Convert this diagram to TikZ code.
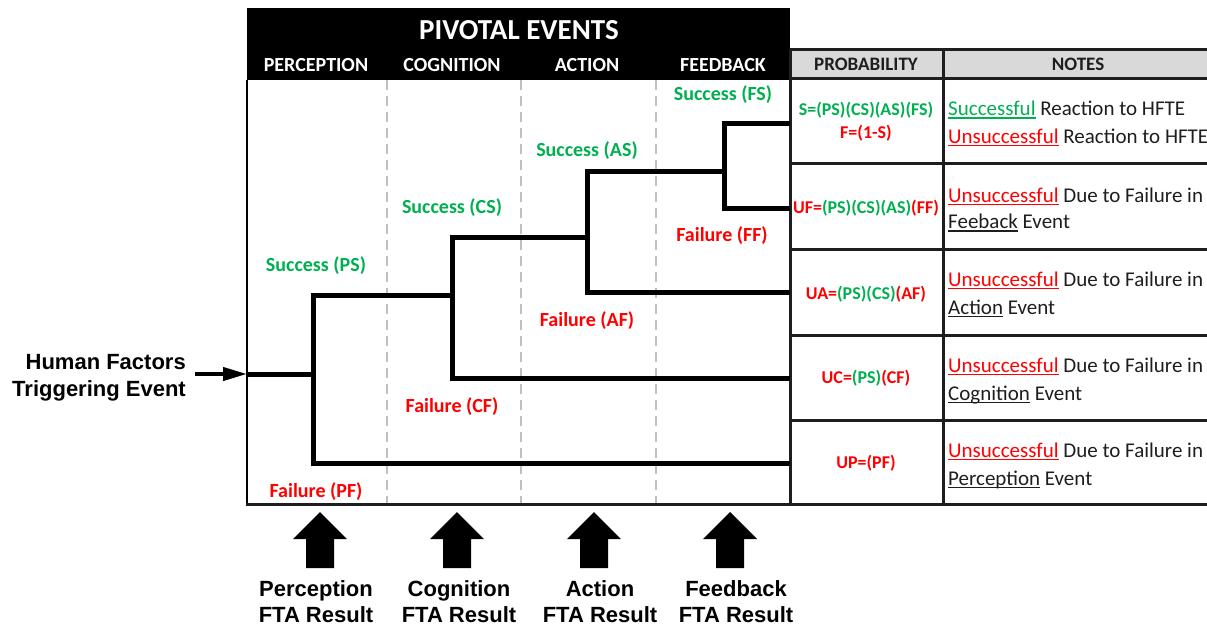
\documentclass[tikz,border=0pt]{standalone}
\usepackage{fontspec}
\setmainfont{Carlito}
\newfontfamily\labelfont{Liberation Sans}
\usetikzlibrary{arrows.meta}

\definecolor{okgreen}{HTML}{00B050}
\definecolor{badred}{HTML}{FF0000}
\definecolor{inkdark}{HTML}{1E1E1E}
\definecolor{hdrgray}{HTML}{D9D9D9}
\definecolor{dashgray}{HTML}{BFBFBF}

% underline drawn in the current colour
\newsavebox\wordbox
\newcommand\markword[1]{\sbox\wordbox{#1}\rlap{\rule[-3.2pt]{\wd\wordbox}{1.6pt}}\usebox\wordbox}

\tikzset{
  tree/.style={line width=5pt, line join=miter},
  frame/.style={line width=2.2pt, draw=black},
  grid/.style={line width=3pt, draw=inkdark},
  divider/.style={line width=2pt, draw=dashgray, dash pattern=on 10pt off 6pt},
  hdr/.style={font=\fontsize{20}{24}\selectfont\bfseries, text=white, inner sep=0},
  colhdr/.style={font=\fontsize{19}{23}\selectfont\bfseries, text=inkdark, inner sep=0},
  branch/.style={font=\fontsize{20}{24}\selectfont\bfseries, inner sep=0},
  prob/.style={font=\fontsize{18}{22}\selectfont\bfseries, inner sep=0},
  note/.style={font=\fontsize{21}{25}\selectfont, text=inkdark, anchor=base west, inner sep=0},
  outer/.style={font=\labelfont\bfseries\fontsize{22}{26}\selectfont, inner sep=0},
  blockarrow/.style={fill=black}
}

\begin{document}
\begin{tikzpicture}[x=1pt, y=-1pt]
\useasboundingbox (0,0) rectangle (1207,627);

% ---- header of the event tree ----
\fill[black] (247,8) rectangle (790,80);
\node[hdr, font=\fontsize{29}{33}\selectfont\bfseries] (title) at (519,30) {PIVOTAL EVENTS};
\node[hdr] (hp) at (316,65) {PERCEPTION};
\node[hdr] (hc) at (452,65) {COGNITION};
\node[hdr] (ha) at (587,65) {ACTION};
\node[hdr] (hf) at (723,65) {FEEDBACK};

% ---- column dividers ----
\draw[divider] (387,80) -- (387,504);
\draw[divider] (521,80) -- (521,504);
\draw[divider] (656,80) -- (656,504);

% ---- table on the right ----
\fill[hdrgray] (790,49) rectangle (1208,78);
\draw[grid] (790,49) -- (1208,49);
\draw[grid] (790,78) -- (1208,78);
\draw[grid] (790,163) -- (1208,163);
\draw[grid] (790,249) -- (1208,249);
\draw[grid] (790,335) -- (1208,335);
\draw[grid] (790,420) -- (1208,420);
\draw[grid] (943,49) -- (943,504);
\draw[grid] (790,49) -- (790,504);

% ---- frame of the tree area ----
\draw[frame] (247,80) -- (247,504);
\draw[grid] (246,504) -- (1208,504);

\node[colhdr] (hprob) at (866,64) {PROBABILITY};
\node[colhdr] (hnotes) at (1078,64) {NOTES};

% ---- event tree ----
\coordinate (start) at (247,374);
\coordinate (pnode) at (313,374);
\coordinate (pup) at (313,295);
\coordinate (pdn) at (313,463);
\coordinate (cjoin) at (452,295);
\coordinate (cup) at (452,237);
\coordinate (cdn) at (452,378);
\coordinate (ajoin) at (587,237);
\coordinate (aup) at (587,171);
\coordinate (adn) at (587,292);
\coordinate (fjoin) at (724,171);
\coordinate (fup) at (724,123);
\coordinate (fdn) at (724,208);
\coordinate (end1) at (790,123);
\coordinate (end2) at (790,208);
\coordinate (end3) at (790,292);
\coordinate (end4) at (790,378);
\coordinate (end5) at (790,463);

\draw[tree] (start) -- (pnode);
\draw[tree] (end5) -- (pdn) -- (pup) -- (cjoin);
\draw[tree] (end4) -- (cdn) -- (cup) -- (ajoin);
\draw[tree] (end3) -- (adn) -- (aup) -- (fjoin);
\draw[tree] (end2) -- (fdn) -- (fup) -- (end1);

% branch labels
\node[branch, text=okgreen] (fs) at (723,95) {Success (FS)};
\node[branch, text=okgreen] (as) at (587,151) {Success (AS)};
\node[branch, text=okgreen] (cs) at (452,208) {Success (CS)};
\node[branch, text=okgreen] (ps) at (316,266) {Success (PS)};
\node[branch, text=badred] (ff) at (722,236) {Failure (FF)};
\node[branch, text=badred] (af) at (587,321) {Failure (AF)};
\node[branch, text=badred] (cf) at (452,407) {Failure (CF)};
\node[branch, text=badred] (pf) at (316,492) {Failure (PF)};

% ---- triggering event ----
\node[outer, anchor=north east, align=right] (trigger) at (186,354)
  {Human Factors\\[1pt]Triggering Event};
\coordinate (trigtail) at (195,374);
\draw[line width=4pt, -{Triangle[length=24pt, width=13pt]}] (trigtail) -- (start);

% ---- probabilities ----
\node[prob, text=okgreen] (pr1a) at (866,110) {S=(PS)(CS)(AS)(FS)};
\node[prob, text=badred] (pr1b) at (866,133) {F=(1-S)};
\node[prob] (pr2) at (866,208)
  {\textcolor{badred}{UF=}\textcolor{okgreen}{(PS)(CS)(AS)}\textcolor{badred}{(FF)}};
\node[prob] (pr3) at (866,294)
  {\textcolor{badred}{UA=}\textcolor{okgreen}{(PS)(CS)}\textcolor{badred}{(AF)}};
\node[prob] (pr4) at (866,378)
  {\textcolor{badred}{UC=}\textcolor{okgreen}{(PS)}\textcolor{badred}{(CF)}};
\node[prob, text=badred] (pr5) at (866,463) {UP=(PF)};

% ---- notes ----
\node[note] (n1a) at (948,115.5) {\textcolor{okgreen}{\markword{Successful}} Reaction to HFTE};
\node[note] (n1b) at (948,143) {\textcolor{badred}{\markword{Unsuccessful}} Reaction to HFTE};
\node[note] (n2a) at (948,202) {\textcolor{badred}{\markword{Unsuccessful}} Due to Failure in};
\node[note] (n2b) at (948,228.5) {\markword{Feeback} Event};
\node[note] (n3a) at (948,286) {\textcolor{badred}{\markword{Unsuccessful}} Due to Failure in};
\node[note] (n3b) at (948,314) {\markword{Action} Event};
\node[note] (n4a) at (948,372) {\textcolor{badred}{\markword{Unsuccessful}} Due to Failure in};
\node[note] (n4b) at (948,400) {\markword{Cognition} Event};
\node[note] (n5a) at (948,457) {\textcolor{badred}{\markword{Unsuccessful}} Due to Failure in};
\node[note] (n5b) at (948,485) {\markword{Perception} Event};

% ---- FTA result inputs ----
\foreach \cx/\lx/\name/\word in {320/316/per/Perception, 457/459/cog/Cognition, 594/600/act/Action, 730/736/fee/Feedback}{
  \fill[blockarrow] (\cx,512) -- (\cx+27,539) -- (\cx+14,539) -- (\cx+14,568)
        -- (\cx-14,568) -- (\cx-14,539) -- (\cx-27,539) -- cycle;
  \node[outer, anchor=north, align=center] (fta\name) at (\lx,580) {\word\\[0pt]FTA Result};
}
\end{tikzpicture}
\end{document}
